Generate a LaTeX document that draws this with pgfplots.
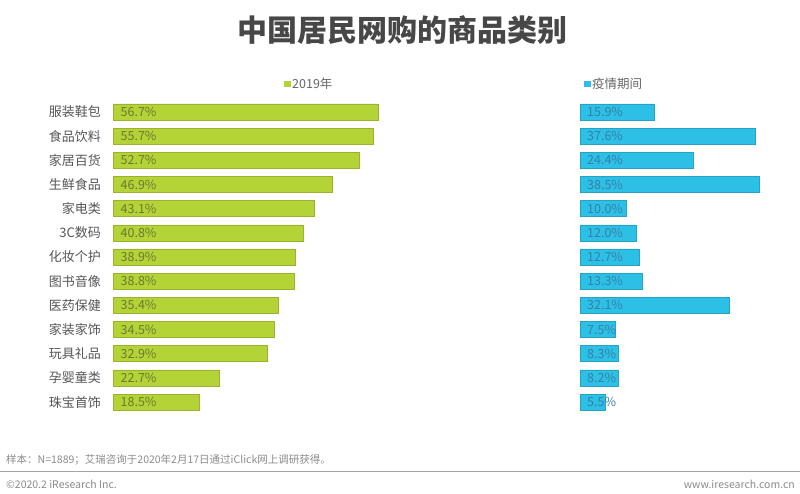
\documentclass[border=0pt]{standalone}
\usepackage{pgfplots}
\pgfplotsset{compat=1.18}
\usepackage{pgfplotstable}
\usepackage{fontspec}
\setmainfont{Noto Sans CJK SC}
\definecolor{barG}{HTML}{B4D336}
\definecolor{barB}{HTML}{2CC0E6}
\definecolor{txtG}{HTML}{6A7A32}
\definecolor{txtB}{HTML}{3A7FA6}
\definecolor{lab}{HTML}{555555}
\definecolor{foot}{HTML}{8A8A8A}

\pgfplotstableread{
idx v
0 56.7
1 55.7
2 52.7
3 46.9
4 43.1
5 40.8
6 38.9
7 38.8
8 35.4
9 34.5
10 32.9
11 22.7
12 18.5
}\leftdata
\pgfplotstableread{
idx v
0 15.9
1 37.6
2 24.4
3 38.5
4 10.0
5 12.0
6 12.7
7 13.3
8 32.1
9 7.5
10 8.3
11 8.2
12 5.5
}\rightdata

\begin{document}
\begin{tikzpicture}
\begin{scope}[x=1pt,y=1pt]
\path[use as bounding box] (0,0) rectangle (800,494);
% title
\node[font=\fontsize{30}{33}\selectfont\bfseries, text=black!72] at (402,464) {中国居民网购的商品类别};
% legends
\fill[barG] (284,406.5) rectangle +(6.5,6.5);
\node[anchor=west, inner sep=0pt, font=\fontsize{12.5}{14}\selectfont, text=black!60] at (292,410) {2019年};
\fill[barB] (584,406.5) rectangle +(6.5,6.5);
\node[anchor=west, inner sep=0pt, font=\fontsize{12.5}{14}\selectfont, text=black!60] at (592,410) {疫情期间};
% footer
\node[anchor=west, inner sep=0pt, font=\fontsize{10.5}{12}\selectfont, text=foot] at (6,34) {样本：N=1889；艾瑞咨询于2020年2月17日通过iClick网上调研获得。};
\draw[black!35, line width=0.6pt] (0,23) -- (800,23);
\node[anchor=west, inner sep=0pt, font=\fontsize{10.5}{12}\selectfont, text=foot] at (6,10) {©2020.2 iResearch Inc.};
\node[anchor=east, inner sep=0pt, font=\fontsize{10.5}{12}\selectfont, text=foot] at (795,10) {www.iresearch.com.cn};
\end{scope}

\begin{axis}[
  at={(113pt,79.9pt)}, anchor=south west,
  scale only axis, width=280.4pt, height=314.2pt,
  xmin=0, xmax=60, ymin=-0.5, ymax=12.5, y dir=reverse,
  axis line style={draw=none}, major tick length=0pt,
  xtick=\empty, ytick={0,...,12},
  yticklabels={服装鞋包,食品饮料,家居百货,生鲜食品,家电类,3C数码,化妆个护,图书音像,医药保健,家装家饰,玩具礼品,孕婴童类,珠宝首饰},
  yticklabel style={font=\fontsize{13}{15}\selectfont, text=lab, inner sep=0pt, xshift=-12pt},
  /pgf/number format/assume math mode=true,
  clip=false,
]
\addplot[xbar, bar width=16pt, fill=barG, draw=barG!85!black, line width=0.4pt] table[x=v, y=idx] {\leftdata};
\addplot[draw=none, mark=none, point meta=explicit,
  nodes near coords={\pgfmathprintnumber[fixed,precision=1,fixed zerofill,assume math mode=true]{\pgfplotspointmeta}\%},
  nodes near coords style={anchor=west, inner sep=0pt, xshift=7.5pt, font=\fontsize{12.5}{14}\selectfont, text=txtG}]
  table[x expr=0, y=idx, meta=v] {\leftdata};
\end{axis}

\begin{axis}[
  at={(580pt,79.9pt)}, anchor=south west,
  scale only axis, width=209.25pt, height=314.2pt,
  xmin=0, xmax=45, ymin=-0.5, ymax=12.5, y dir=reverse,
  axis line style={draw=none}, major tick length=0pt,
  xtick=\empty, ytick=\empty,
  /pgf/number format/assume math mode=true,
  clip=false,
]
\addplot[xbar, bar width=16pt, fill=barB, draw=barB!85!black, line width=0.4pt] table[x=v, y=idx] {\rightdata};
\addplot[draw=none, mark=none, point meta=explicit,
  nodes near coords={\pgfmathprintnumber[fixed,precision=1,fixed zerofill,assume math mode=true]{\pgfplotspointmeta}\%},
  nodes near coords style={anchor=west, inner sep=0pt, xshift=7pt, font=\fontsize{12.5}{14}\selectfont, text=txtB}]
  table[x expr=0, y=idx, meta=v] {\rightdata};
\end{axis}
\end{tikzpicture}
\end{document}
